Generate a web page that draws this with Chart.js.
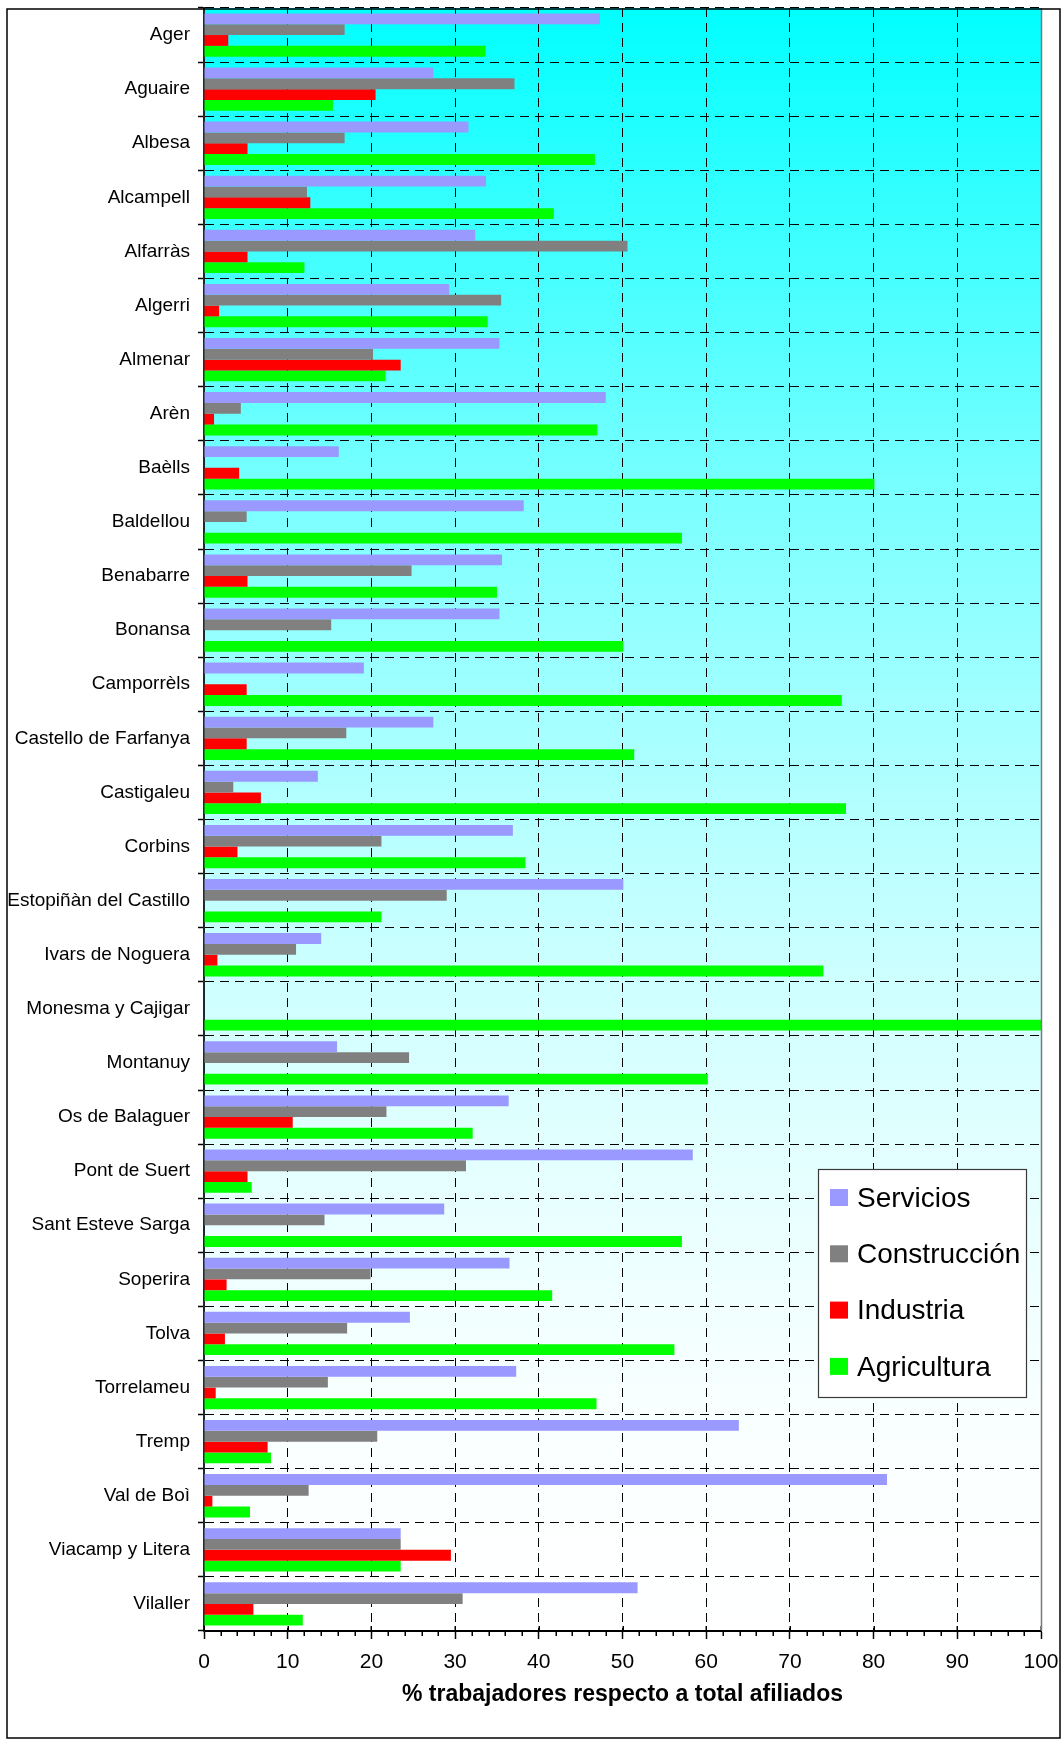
<!DOCTYPE html>
<html>
<head>
<meta charset="utf-8">
<script src="https://cdn.jsdelivr.net/npm/chart.js@4.4.0/dist/chart.umd.min.js"></script>
<style>
  html, body { margin: 0; padding: 0; background: #ffffff; }
  canvas { display: block; }
</style>
</head>
<body>
<canvas id="chart" width="1062" height="1740"></canvas>
<script>
// Municipalities (top to bottom)
const categories = [
  'Ager', 'Aguaire', 'Albesa', 'Alcampell', 'Alfarràs', 'Algerri', 'Almenar', 'Arèn',
  'Baèlls', 'Baldellou', 'Benabarre', 'Bonansa', 'Camporrèls', 'Castello de Farfanya',
  'Castigaleu', 'Corbins', 'Estopiñàn del Castillo', 'Ivars de Noguera', 'Monesma y Cajigar',
  'Montanuy', 'Os de Balaguer', 'Pont de Suert', 'Sant Esteve Sarga', 'Soperira', 'Tolva',
  'Torrelameu', 'Tremp', 'Val de Boì', 'Viacamp y Litera', 'Vilaller'
];

// % of workers per sector over total affiliates
const servicios = [47.3, 27.4, 31.6, 33.7, 32.4, 29.3, 35.3, 48.0, 16.1, 38.2, 35.6, 35.3, 19.1, 27.4,
  13.6, 36.9, 50.1, 14.0, 0, 15.9, 36.4, 58.4, 28.7, 36.5, 24.6, 37.3, 63.9, 81.6, 23.5, 51.8];
const construccion = [16.8, 37.1, 16.8, 12.3, 50.6, 35.5, 20.2, 4.4, 0, 5.1, 24.8, 15.2, 0, 17.0,
  3.5, 21.2, 29.0, 11.0, 0, 24.5, 21.8, 31.3, 14.4, 19.9, 17.1, 14.8, 20.7, 12.5, 23.5, 30.9];
const industria = [2.9, 20.5, 5.2, 12.7, 5.2, 1.8, 23.5, 1.2, 4.2, 0, 5.2, 0, 5.1, 5.1,
  6.8, 4.0, 0, 1.6, 0, 0, 10.6, 5.2, 0, 2.7, 2.5, 1.4, 7.6, 1.0, 29.5, 5.9];
const agricultura = [33.6, 15.4, 46.7, 41.8, 12.0, 33.9, 21.7, 47.0, 80.1, 57.1, 35.0, 50.1, 76.2, 51.4,
  76.7, 38.4, 21.2, 74.0, 100, 60.2, 32.1, 5.7, 57.1, 41.6, 56.2, 46.9, 8.0, 5.5, 23.5, 11.8];

// Value axis tick labels
const xTickValues = [0, 10, 20, 30, 40, 50, 60, 70, 80, 90, 100];
const xMinorStep = 2;

const FONT = '"Liberation Sans", Arial, Helvetica, sans-serif';

// Keep the plot box exactly where the layout padding puts it
function noOverhang(scale) {
  scale.paddingTop = 0;
  scale.paddingBottom = 0;
  scale.paddingLeft = 0;
  scale.paddingRight = 0;
}

// Cyan-to-white vertical wash behind the plot
const plotBackground = {
  id: 'plotBackground',
  beforeDraw(chart) {
    const { ctx, chartArea: a } = chart;
    const g = ctx.createLinearGradient(0, a.top, 0, a.bottom);
    for (let i = 0; i <= 20; i++) {
      const t = i / 20;
      const r = Math.round(255 * (1 - Math.pow(1 - t, 1.8)));
      g.addColorStop(t, 'rgb(' + r + ',255,255)');
    }
    ctx.save();
    ctx.fillStyle = g;
    ctx.fillRect(a.left, a.top, a.right - a.left, a.bottom - a.top);
    ctx.restore();
  }
};

// Minor ticks and the inner half of the crossing major ticks on the value axis,
// plus the right edge of the plot
const axisDecor = {
  id: 'axisDecor',
  afterDatasetsDraw(chart) {
    const { ctx, chartArea: a } = chart;
    const xs = chart.scales.x;
    ctx.save();
    ctx.strokeStyle = '#000';
    ctx.lineWidth = 1.5;
    ctx.beginPath();
    for (let v = xs.min; v <= xs.max + 1e-9; v += xMinorStep) {
      const px = Math.round(xs.getPixelForValue(v)) + 0.25;
      if (xTickValues.includes(v)) {
        ctx.moveTo(px, a.bottom - 5);
        ctx.lineTo(px, a.bottom);
      } else {
        ctx.moveTo(px, a.bottom);
        ctx.lineTo(px, a.bottom + 5);
      }
    }
    ctx.stroke();
    ctx.strokeStyle = '#7a7a7a';
    ctx.lineWidth = 1.5;
    ctx.beginPath();
    ctx.moveTo(a.right + 0.5, a.top);
    ctx.lineTo(a.right + 0.5, a.bottom);
    ctx.stroke();
    ctx.restore();
  }
};

// Outer frame and the boxed legend
const frameAndLegend = {
  id: 'frameAndLegend',
  afterDraw(chart) {
    const ctx = chart.ctx;
    ctx.save();
    ctx.strokeStyle = '#000';
    ctx.lineWidth = 1.5;
    ctx.strokeRect(7, 9, 1053, 1729);

    const box = { x: 818, y: 1169, w: 208, h: 228 };
    ctx.fillStyle = '#ffffff';
    ctx.fillRect(box.x, box.y, box.w, box.h);
    ctx.strokeStyle = '#3a3a3a';
    ctx.lineWidth = 1.2;
    ctx.strokeRect(box.x + 0.5, box.y + 0.5, box.w, box.h);

    ctx.font = '28px ' + FONT;
    ctx.textAlign = 'left';
    ctx.textBaseline = 'middle';
    chart.data.datasets.forEach((ds, i) => {
      const cy = box.y + 29 + i * 56.3;
      ctx.fillStyle = ds.backgroundColor;
      ctx.fillRect(box.x + 12, cy - 9, 18, 17);
      ctx.fillStyle = '#000';
      ctx.fillText(ds.label, box.x + 39, cy + 1);
    });
    ctx.restore();
  }
};

new Chart(document.getElementById('chart'), {
  type: 'bar',
  data: {
    labels: categories,
    datasets: [
      { label: 'Servicios', data: servicios, backgroundColor: '#9999FF' },
      { label: 'Construcción', data: construccion, backgroundColor: '#808080' },
      { label: 'Industria', data: industria, backgroundColor: '#FF0000' },
      { label: 'Agricultura', data: agricultura, backgroundColor: '#00FF00' }
    ]
  },
  options: {
    indexAxis: 'y',
    responsive: false,
    animation: false,
    devicePixelRatio: 1,
    layout: { padding: { top: 8, right: 21, bottom: 0, left: 0 } },
    datasets: {
      bar: { categoryPercentage: 0.8, barPercentage: 1.0, borderWidth: 0 }
    },
    plugins: {
      legend: { display: false },
      tooltip: { enabled: false }
    },
    scales: {
      x: {
        type: 'linear',
        min: 0,
        max: 100,
        afterBuildTicks(scale) { scale.ticks = xTickValues.map(v => ({ value: v })); },
        afterFit(scale) { scale.height = 109; noOverhang(scale); },
        grid: { color: '#000', lineWidth: 1, tickLength: 8, tickColor: '#000', tickWidth: 1.5 },
        border: { display: true, color: '#000', width: 2, dash: [9, 6] },
        ticks: {
          color: '#000',
          font: { family: FONT, size: 21 },
          padding: 11,
          maxRotation: 0,
          autoSkip: false
        },
        title: {
          display: true,
          text: '% trabajadores respecto a total afiliados',
          color: '#000',
          font: { family: FONT, size: 23, weight: 'bold' },
          padding: { top: 0, bottom: 32 }
        }
      },
      y: {
        type: 'category',
        afterFit(scale) { scale.width = 204; noOverhang(scale); },
        grid: { color: '#000', lineWidth: 1, offset: true, tickLength: 6, tickColor: '#000', tickWidth: 1.5 },
        border: { display: true, color: '#1b2b2b', width: 2, dash: [9, 6] },
        ticks: {
          color: '#000',
          font: { family: FONT, size: 19 },
          padding: 8,
          autoSkip: false
        }
      }
    }
  },
  plugins: [plotBackground, axisDecor, frameAndLegend]
});
</script>
</body>
</html>
